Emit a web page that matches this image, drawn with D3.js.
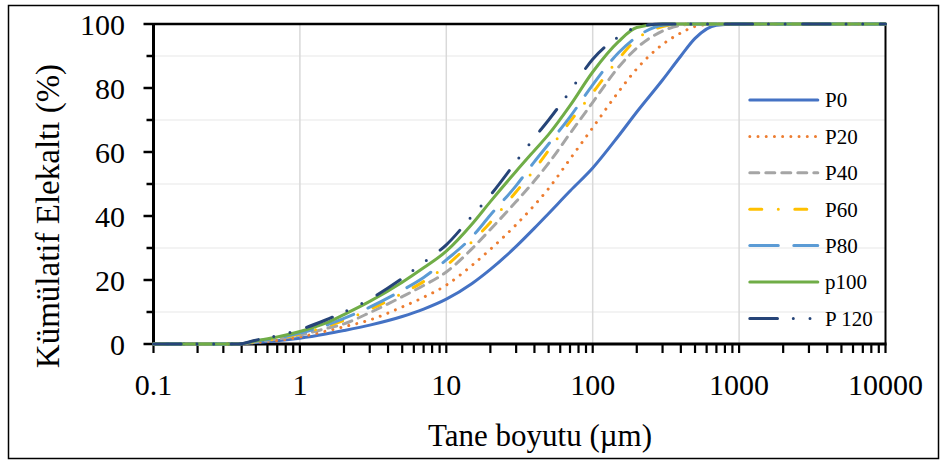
<!DOCTYPE html>
<html>
<head>
<meta charset="utf-8">
<script src="https://cdn.jsdelivr.net/npm/d3@7"></script>
<style>
  body { margin: 0; background: #fff; }
  svg { display: block; }
  text { font-family: "Liberation Serif", "Times New Roman", serif; fill: #000; }
</style>
</head>
<body>
<svg id="chart" width="942" height="462"></svg>
<script>
// Particle size grid (µm) shared by all samples
const sizes = [0.1, 0.2, 0.3, 0.38, 0.5, 0.7, 1, 1.5, 2, 3, 5, 7, 10, 15, 20, 30, 40, 50, 70, 100,
               150, 200, 300, 400, 500, 700, 1000, 2000, 5000, 10000];

// Cumulative passing (%) for each sample
const P0   = [0, 0, 0, 0, 0.5, 1.0, 1.8, 3.1, 4.2, 5.9, 8.6, 10.9, 14, 18.9, 23.3, 30.5, 36.2, 40.8, 47.8, 55,
              65, 72.5, 82.5, 90, 95.5, 99.6, 100, 100, 100, 100];
const P20  = [0, 0, 0, 0, 0.5, 1.1, 2.2, 4.0, 5.4, 7.5, 11.6, 14.6, 18.4, 24.6, 29.6, 37.3, 43.4, 48.6, 57.8, 67.6,
              78.8, 86, 93.6, 97.2, 99.2, 100, 100, 100, 100, 100];
const P40  = [0, 0, 0, 0, 0.7, 1.5, 2.8, 4.8, 6.3, 9.8, 14.8, 18.3, 22.5, 29.8, 35.8, 44.5, 51, 56.5, 65.8, 75.5,
              86.5, 92.5, 97.8, 99.6, 100, 100, 100, 100, 100, 100];
const P60  = [0, 0, 0, 0, 0.8, 1.7, 3.1, 5.4, 7.4, 10.8, 15.8, 19.5, 24.5, 32, 38, 47.6, 54.5, 60.5, 69.5, 78.5,
              89, 95.3, 99.2, 100, 100, 100, 100, 100, 100, 100];
const P80  = [0, 0, 0, 0, 0.9, 1.9, 3.4, 5.8, 8, 11.5, 16.8, 20.8, 26.3, 33.5, 40.3, 49.5, 57, 62.5, 71, 81,
              91, 96, 99.6, 100, 100, 100, 100, 100, 100, 100];
const p100 = [0, 0, 0, 0, 1.0, 2.2, 3.9, 6.5, 9.2, 13.3, 19.3, 23.8, 29, 37.5, 44.5, 54, 60.5, 65.5, 74.5, 85,
              94.5, 98.9, 100, 100, 100, 100, 100, 100, 100, 100];
const P120 = [0, 0, 0, 0, 1.2, 2.6, 4.5, 7.5, 10, 14, 20.5, 25.5, 31, 40, 46.5, 57, 64.5, 70, 79, 89,
              96, 99, 100, 100, 100, 100, 100, 100, 100, 100];

const seriesNames = ["P0", "P20", "P40", "P60", "P80", "p100", "P 120"];
const seriesValues = [P0, P20, P40, P60, P80, p100, P120];

const xTicks = [0.1, 1, 10, 100, 1000, 10000];
const xTickLabels = ["0.1", "1", "10", "100", "1000", "10000"];
const yTicks = [0, 20, 40, 60, 80, 100];

const xTitle = "Tane boyutu (µm)";
const yTitle = "Kümülatif Elekaltı (%)";

// Line styles per sample
const styles = [
  { color: "#4472C4", dash: null },
  { color: "#ED7D31", dash: "0.01 8.2" },
  { color: "#A5A5A5", dash: "9 7" },
  { color: "#FFC000", dash: "12 16.5 0 16.5" },
  { color: "#5B9BD5", dash: "28.5 15.5" },
  { color: "#70AD47", dash: null },
  { color: "#264478", dash: "27.7 15.8 0 16.7 0 17.4" }
];

const svg = d3.select("#chart");
const plotL = 153.5, plotR = 885.5, plotT = 24, plotB = 344;

const x = d3.scaleLog().domain([0.1, 10000]).range([plotL, plotR]);
const y = d3.scaleLinear().domain([0, 100]).range([plotB, plotT]);

// Outer frame
svg.append("rect")
  .attr("x", 8.5).attr("y", 5.5).attr("width", 930).attr("height", 453)
  .attr("fill", "none").attr("stroke", "#000").attr("stroke-width", 1.5);

// Gridlines
const grid = svg.append("g");
grid.selectAll("line.hg").data([10, 30, 50, 70, 90]).join("line")
  .attr("x1", plotL).attr("x2", plotR)
  .attr("y1", d => y(d)).attr("y2", d => y(d))
  .attr("stroke", "#efefef").attr("stroke-width", 1.5);
grid.selectAll("line.vg").data([1, 10, 100, 1000]).join("line")
  .attr("x1", d => x(d)).attr("x2", d => x(d))
  .attr("y1", plotT).attr("y2", plotB)
  .attr("stroke", "#d9d9d9").attr("stroke-width", 1.5);

// Plot frame: top and right edges
svg.append("line").attr("x1", plotL).attr("x2", plotR).attr("y1", plotT).attr("y2", plotT)
  .attr("stroke", "#000").attr("stroke-width", 2.5);
svg.append("line").attr("x1", plotR).attr("x2", plotR).attr("y1", plotT).attr("y2", plotB)
  .attr("stroke", "#000").attr("stroke-width", 2);

// Y axis
const yAxis = svg.append("g");
yAxis.append("line").attr("x1", plotL).attr("x2", plotL).attr("y1", plotT - 1).attr("y2", plotB + 1.5)
  .attr("stroke", "#000").attr("stroke-width", 3);
yAxis.selectAll("line.yt").data(d3.range(0, 101, 10)).join("line")
  .attr("x1", d => d % 20 === 0 ? plotL - 10 : plotL - 7).attr("x2", plotL)
  .attr("y1", d => y(d)).attr("y2", d => y(d))
  .attr("stroke", "#000").attr("stroke-width", 2.5);
yAxis.selectAll("text").data(yTicks).join("text")
  .attr("x", 125).attr("y", d => y(d)).attr("dy", "0.35em")
  .attr("text-anchor", "end").attr("font-size", 30)
  .text(d => d);

// X axis
const xAxis = svg.append("g");
xAxis.append("line").attr("x1", plotL - 1.5).attr("x2", plotR + 1).attr("y1", plotB).attr("y2", plotB)
  .attr("stroke", "#000").attr("stroke-width", 3);
const minor = [];
for (let e = -1; e < 4; e++) for (let m = 1; m < 10; m++) minor.push(m * Math.pow(10, e));
minor.push(10000);
xAxis.selectAll("line.xt").data(minor).join("line")
  .attr("x1", d => x(d)).attr("x2", d => x(d))
  .attr("y1", plotB).attr("y2", plotB + 9)
  .attr("stroke", "#000").attr("stroke-width", 2.2);
xAxis.selectAll("text").data(xTicks).join("text")
  .attr("x", d => x(d)).attr("y", 384).attr("dy", "0.35em")
  .attr("text-anchor", "middle").attr("font-size", 30)
  .text((d, i) => xTickLabels[i]);

// Axis titles
svg.append("text").attr("x", 540).attr("y", 435).attr("dy", "0.35em")
  .attr("text-anchor", "middle").attr("font-size", 31).text(xTitle);
svg.append("text").attr("transform", "translate(47,216) rotate(-90)").attr("dy", "0.35em")
  .attr("text-anchor", "middle").attr("font-size", 33).text(yTitle);

// Curves
const line = d3.line()
  .x(d => x(d[0])).y(d => y(d[1]))
  .curve(d3.curveMonotoneX);

const curves = svg.append("g");
seriesValues.forEach((vals, i) => {
  curves.append("path")
    .datum(sizes.map((s, j) => [s, vals[j]]))
    .attr("d", line)
    .attr("fill", "none")
    .attr("stroke", styles[i].color)
    .attr("stroke-width", 3)
    .attr("stroke-linecap", "round")
    .attr("stroke-linejoin", "round")
    .attr("stroke-dasharray", styles[i].dash);
});

// Legend
const legend = svg.append("g");
seriesNames.forEach((name, i) => {
  const ly = 100 + i * 36.4;
  legend.append("line")
    .attr("x1", 749.8).attr("x2", 817.8).attr("y1", ly).attr("y2", ly)
    .attr("stroke", styles[i].color).attr("stroke-width", 3)
    .attr("stroke-linecap", "round")
    .attr("stroke-dasharray", styles[i].dash);
  legend.append("text")
    .attr("x", 825).attr("y", ly).attr("dy", "0.35em")
    .attr("font-size", 21).text(name);
});
</script>
</body>
</html>
